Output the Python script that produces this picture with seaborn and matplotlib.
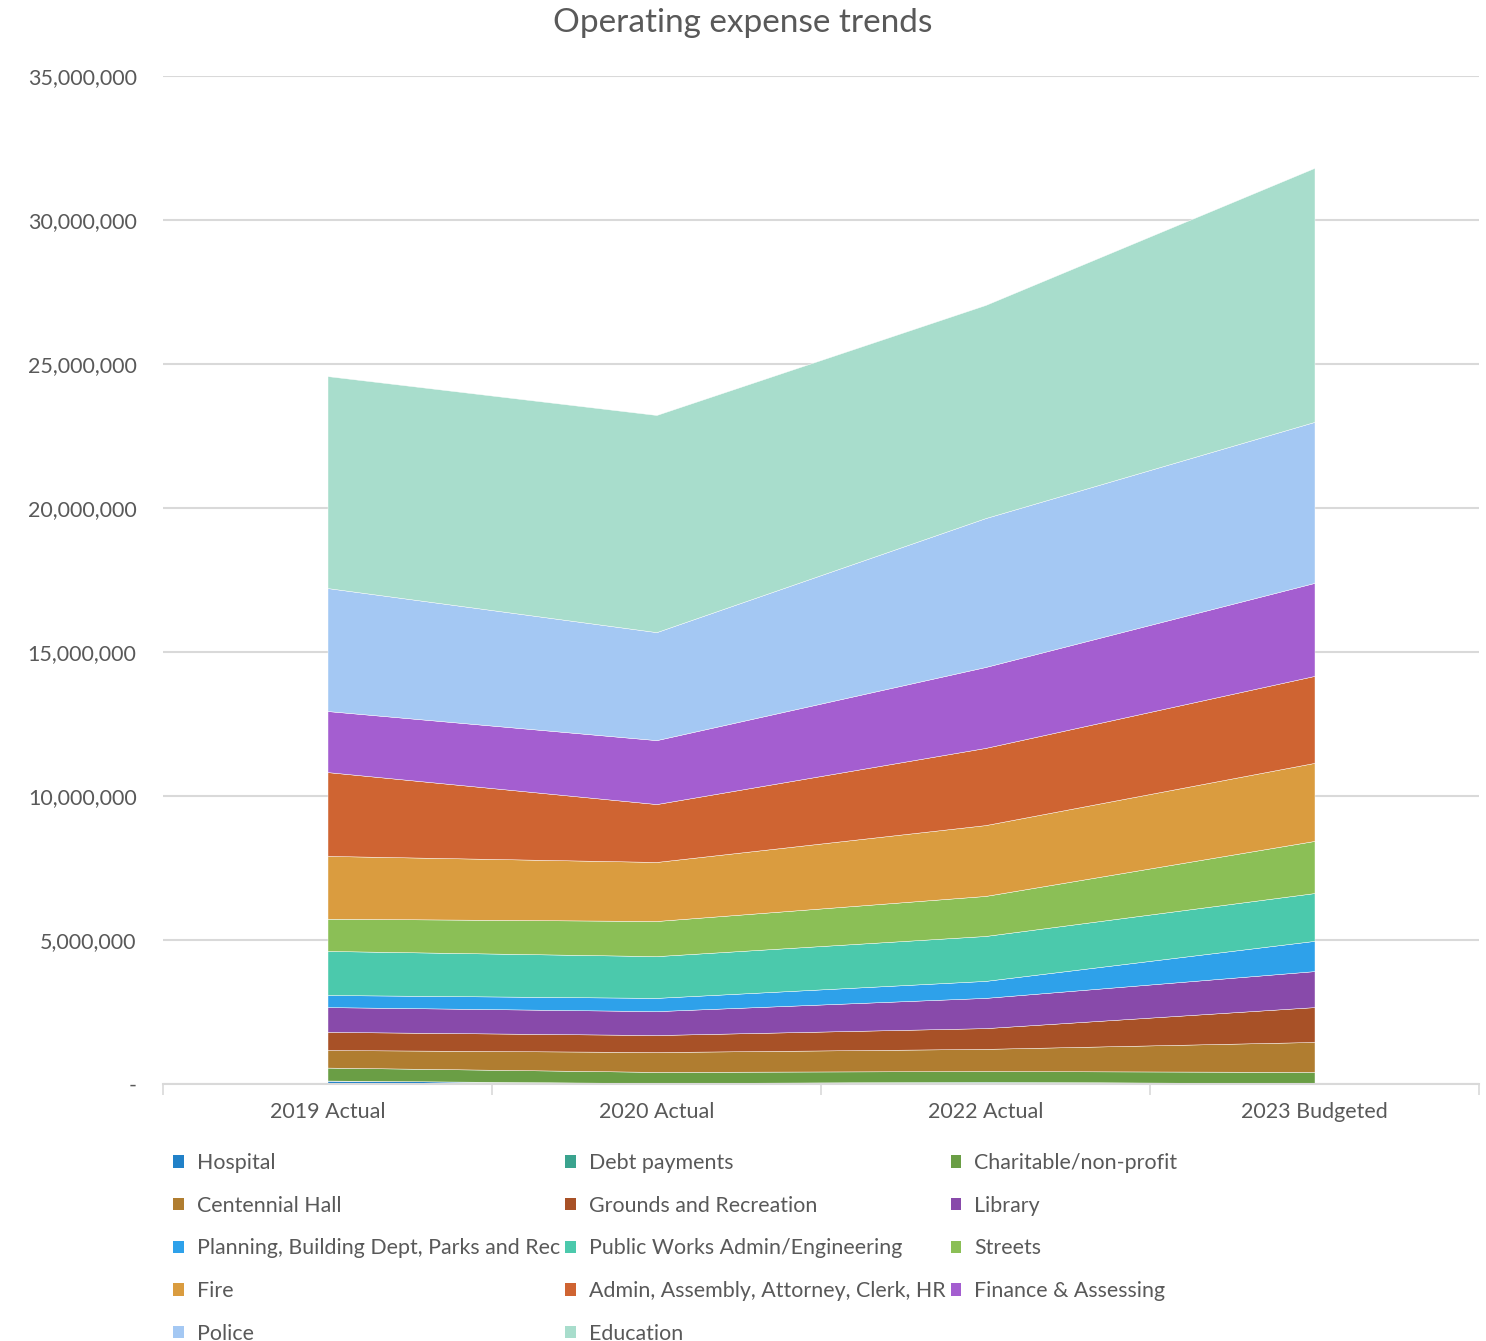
import numpy as np
import pandas as pd
import matplotlib
matplotlib.use('Agg')
import matplotlib.pyplot as plt
from matplotlib.patches import Patch
from matplotlib.ticker import FuncFormatter, FixedLocator
import seaborn as sns

# categories and series (layer values)
years = ['2019 Actual', '2020 Actual', '2022 Actual', '2023 Budgeted']

hospital = [120000, 30000, 40000, 20000]
debt_payments = [0, 0, 40000, 0]
charitable = [450000, 390000, 370000, 400000]
centennial_hall = [610000, 690000, 770000, 1040000]
grounds_rec = [630000, 590000, 720000, 1210000]
library = [860000, 830000, 1050000, 1250000]
planning = [420000, 460000, 590000, 1050000]
public_works = [1530000, 1450000, 1560000, 1660000]
streets = [1120000, 1220000, 1390000, 1810000]
fire = [2180000, 2050000, 2460000, 2710000]
admin = [2910000, 2010000, 2680000, 3020000]
finance = [2120000, 2220000, 2810000, 3230000]
police = [4270000, 3750000, 5170000, 5590000]
education = [7360000, 7540000, 7400000, 8820000]

series_names = ['Hospital', 'Debt payments', 'Charitable/non-profit', 'Centennial Hall',
                'Grounds and Recreation', 'Library', 'Planning, Building Dept, Parks and Rec',
                'Public Works Admin/Engineering', 'Streets', 'Fire',
                'Admin, Assembly, Attorney, Clerk, HR', 'Finance & Assessing', 'Police', 'Education']
series_values = [hospital, debt_payments, charitable, centennial_hall, grounds_rec, library,
                 planning, public_works, streets, fire, admin, finance, police, education]
colors = ['#2181C8', '#3AA38E', '#6A9E45', '#B07D30', '#A85127', '#884AAA', '#2EA1EA',
          '#4BC9AC', '#8BBF56', '#DA9C3F', '#CF6432', '#A45ED0', '#A4C8F3', '#A8DDCC']

df = pd.DataFrame(dict(zip(series_names, series_values)), index=years)

sns.set_theme(style='white')
plt.rcParams['font.family'] = ['Lato', 'DejaVu Sans']
text_col = '#595959'

fig = plt.figure(figsize=(14.86, 13.41), dpi=100)
ax = fig.add_axes([163/1486, 1 - 1084/1341, (1479 - 163)/1486, (1084 - 76)/1341])

x = np.arange(len(years))
ax.stackplot(x, *[df[c].values for c in series_names], colors=colors,
             edgecolor='white', linewidth=0.3, alpha=1)

ax.set_xlim(-0.5, len(years) - 0.5)
ax.set_ylim(0, 35000000)
ax.set_yticks(np.arange(0, 35000001, 5000000))
ax.yaxis.set_major_formatter(FuncFormatter(lambda v, p: '-' if v == 0 else f'{v:,.0f}'))
ax.set_xticks(x)
ax.set_xticklabels(years)
ax.xaxis.set_minor_locator(FixedLocator(np.arange(-0.5, len(years), 1)))
ax.tick_params(axis='x', which='major', length=0, pad=13, labelsize=15.5, colors=text_col)
ax.tick_params(axis='x', which='minor', length=8, width=1.2, color='#D9D9D9', bottom=True)
ax.tick_params(axis='y', length=0, pad=19, labelsize=15.5, colors=text_col)

ax.grid(axis='y', color='#D9D9D9', linewidth=1.5)
ax.set_axisbelow(True)
for s in ['top', 'right', 'left']:
    ax.spines[s].set_visible(False)
ax.spines['bottom'].set_color('#D9D9D9')
ax.spines['bottom'].set_linewidth(1.5)
ax.spines['bottom'].set_zorder(5)

fig.suptitle('Operating expense trends', y=1 - 23/1341, va='center', fontsize=24, color=text_col)

# legend is filled row by row in the reference -> feed matplotlib column order
handles = [Patch(facecolor=c, edgecolor='none') for c in colors]
order = []
ncol = 3
nrows = int(np.ceil(len(series_names) / ncol))
for col in range(ncol):
    for row in range(nrows):
        i = row * ncol + col
        if i < len(series_names):
            order.append(i)
leg = fig.legend([handles[i] for i in order], [series_names[i] for i in order],
                 ncol=ncol, loc='upper left', bbox_to_anchor=(173/1486, 1 - 1153/1341),
                 frameon=False, fontsize=15.4, handlelength=0.5, handleheight=0.5,
                 handletextpad=0.6, columnspacing=0.25, labelspacing=1.06,
                 borderaxespad=0, borderpad=0)
for t in leg.get_texts():
    t.set_color(text_col)

fig.savefig('out.png', dpi=100)
